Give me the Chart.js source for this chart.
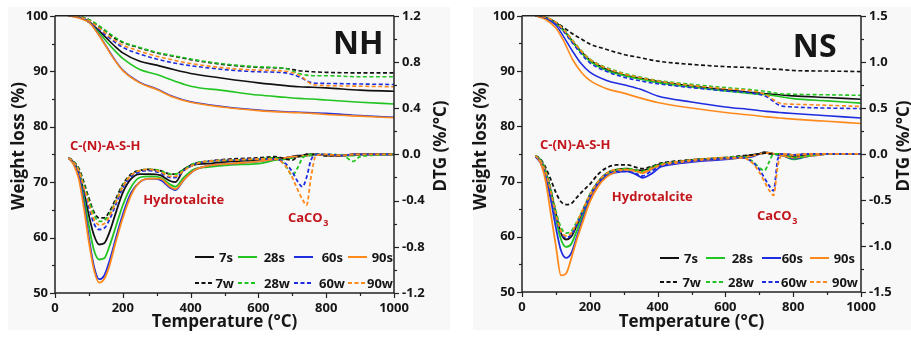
<!DOCTYPE html>
<html>
<head>
<meta charset="utf-8">
<title>TG / DTG</title>
<script src="https://cdn.jsdelivr.net/npm/chart.js@4.4.1/dist/chart.umd.min.js"></script>
<style>
html, body { margin: 0; padding: 0; background: #fff; }
#wrap { position: relative; width: 911px; height: 338px; }
#nh { position: absolute; left: 0; top: 0; }
#ns { position: absolute; left: 460px; top: 0; }
</style>
</head>
<body>
<div id="wrap">
  <canvas id="nh" width="460" height="338"></canvas>
  <canvas id="ns" width="451" height="338"></canvas>
</div>
<script>
// temperature grids (°C)
var tgTemp = [40, 70, 100, 125, 150, 175, 200, 250, 300, 350, 400, 500, 600, 680, 720, 760, 800, 900, 1000];
var dtgTemp = [40, 55, 70, 85, 100, 115, 130, 145, 160, 180, 200, 225, 250, 280, 310, 340, 355, 380, 410, 450,
               520, 600, 650, 680, 700, 715, 730, 742, 755, 770, 800, 850, 880, 900, 1000];

var seriesNames = ['7s', '28s', '60s', '90s', '7w', '28w', '60w', '90w'];
var seriesColors = ['#111111', '#22c422', '#1f2de0', '#ff8a1c', '#111111', '#22c422', '#1f2de0', '#ff8a1c'];

// NH - weight loss (%)
var nhTg7s  = [100, 99.8, 99.0, 97.6, 96.1, 94.6, 93.3, 91.8, 91.1, 90.3, 89.6, 88.7, 87.9, 87.4, 87.2, 87.1, 87.0, 86.6, 86.4];
var nhTg28s = [100, 99.8, 98.8, 97.3, 95.5, 93.8, 92.3, 90.3, 89.4, 88.3, 87.3, 86.5, 85.7, 85.3, 85.1, 85.0, 84.8, 84.4, 84.1];
var nhTg60s = [100, 99.7, 98.9, 97.0, 94.6, 92.2, 90.2, 88.0, 86.8, 85.4, 84.5, 83.6, 83.0, 82.7, 82.6, 82.5, 82.4, 82.0, 81.7];
var nhTg90s = [100, 99.6, 98.8, 96.9, 94.5, 92.1, 90.1, 87.9, 86.7, 85.3, 84.4, 83.5, 82.9, 82.6, 82.5, 82.4, 82.2, 81.9, 81.6];
var nhTg7w  = [100, 99.9, 99.3, 98.3, 97.2, 96.0, 95.2, 94.2, 93.3, 92.7, 92.1, 91.2, 90.7, 90.5, 90.1, 89.9, 89.8, 89.7, 89.7];
var nhTg28w = [100, 99.9, 99.3, 98.4, 97.3, 96.2, 95.3, 94.3, 93.4, 92.8, 92.2, 91.3, 90.8, 90.5, 89.6, 89.2, 89.2, 89.0, 89.0];
var nhTg60w = [100, 99.8, 99.0, 97.8, 96.5, 95.3, 94.3, 93.1, 92.2, 91.5, 91.0, 90.3, 89.9, 89.7, 89.0, 87.9, 87.8, 87.7, 87.6];
var nhTg90w = [100, 99.8, 99.1, 98.0, 96.8, 95.6, 94.7, 93.6, 92.7, 92.0, 91.4, 90.6, 90.2, 90.0, 89.3, 87.6, 87.4, 87.3, 87.2];

// NH - DTG (%/°C)
var nhDtg7s  = [-0.03,-0.07,-0.15,-0.32,-0.53,-0.70,-0.78,-0.77,-0.68,-0.50,-0.33,-0.21,-0.17,-0.17,-0.18,-0.23,-0.24,-0.13,-0.09,-0.08,-0.06,-0.05,-0.03,-0.03,-0.02,-0.01,-0.01,0,0,0,-0.01,-0.01,0,0,0];
var nhDtg28s = [-0.03,-0.08,-0.17,-0.37,-0.62,-0.83,-0.91,-0.90,-0.80,-0.62,-0.44,-0.28,-0.20,-0.19,-0.20,-0.26,-0.28,-0.20,-0.13,-0.11,-0.09,-0.08,-0.05,-0.04,-0.03,-0.02,-0.02,-0.01,-0.01,0,-0.01,-0.01,-0.01,0,0];
var nhDtg60s = [-0.03,-0.08,-0.18,-0.42,-0.72,-0.97,-1.08,-1.05,-0.93,-0.72,-0.52,-0.33,-0.24,-0.21,-0.22,-0.29,-0.31,-0.22,-0.14,-0.10,-0.08,-0.06,-0.04,-0.03,-0.02,-0.02,-0.01,-0.01,0,0,-0.01,-0.01,0,0,0];
var nhDtg90s = [-0.03,-0.09,-0.21,-0.46,-0.76,-1.00,-1.11,-1.08,-0.97,-0.75,-0.55,-0.35,-0.24,-0.21,-0.21,-0.28,-0.30,-0.22,-0.14,-0.10,-0.08,-0.06,-0.04,-0.03,-0.02,-0.02,-0.01,-0.01,0,0,-0.01,-0.01,0,0,0];
var nhDtg7w  = [-0.03,-0.06,-0.12,-0.24,-0.38,-0.50,-0.55,-0.55,-0.50,-0.38,-0.26,-0.17,-0.14,-0.13,-0.14,-0.17,-0.17,-0.13,-0.08,-0.06,-0.04,-0.03,-0.02,-0.04,-0.05,-0.02,-0.01,0,0,0,-0.01,-0.01,0,0,0];
var nhDtg28w = [-0.03,-0.06,-0.13,-0.26,-0.40,-0.52,-0.58,-0.57,-0.52,-0.40,-0.27,-0.18,-0.14,-0.13,-0.14,-0.17,-0.17,-0.13,-0.08,-0.06,-0.05,-0.04,-0.03,-0.10,-0.18,-0.12,-0.03,-0.01,0,0,0,-0.01,-0.06,-0.02,0];
var nhDtg60w = [-0.03,-0.07,-0.15,-0.30,-0.46,-0.60,-0.65,-0.64,-0.57,-0.43,-0.29,-0.19,-0.15,-0.14,-0.16,-0.20,-0.20,-0.14,-0.09,-0.06,-0.05,-0.04,-0.04,-0.08,-0.15,-0.23,-0.28,-0.20,-0.05,0,0,-0.01,0,0,0];
var nhDtg90w = [-0.03,-0.07,-0.14,-0.28,-0.43,-0.56,-0.61,-0.60,-0.54,-0.41,-0.28,-0.18,-0.14,-0.13,-0.15,-0.19,-0.19,-0.14,-0.09,-0.06,-0.05,-0.04,-0.04,-0.10,-0.20,-0.30,-0.39,-0.44,-0.20,-0.01,0,-0.01,0,0,0];

// NS - weight loss (%)
var nsTg7s  = [100, 99.7, 98.8, 97.3, 95.3, 93.5, 92.0, 90.3, 89.3, 88.7, 88.1, 87.3, 86.6, 86.1, 85.9, 85.7, 85.5, 85.2, 84.9];
var nsTg28s = [100, 99.6, 98.6, 97.1, 95.1, 93.3, 91.8, 90.1, 89.2, 88.5, 87.9, 87.1, 86.4, 85.9, 85.7, 85.4, 85.0, 84.6, 84.2];
var nsTg60s = [100, 99.5, 98.3, 96.0, 93.5, 91.3, 89.8, 88.3, 87.5, 86.7, 85.5, 84.4, 83.5, 83.0, 82.7, 82.5, 82.3, 81.9, 81.5];
var nsTg90s = [100, 99.3, 97.8, 95.2, 92.0, 89.8, 88.3, 86.8, 86.0, 85.1, 84.3, 83.3, 82.5, 82.0, 81.7, 81.5, 81.3, 80.9, 80.5];
var nsTg7w  = [100, 99.7, 98.8, 97.8, 96.7, 95.8, 94.9, 93.9, 93.0, 92.4, 91.8, 91.2, 90.8, 90.6, 90.4, 90.3, 90.1, 90.0, 89.9];
var nsTg28w = [100, 99.7, 98.8, 97.4, 95.5, 93.7, 92.2, 90.6, 89.6, 88.9, 88.3, 87.6, 87.0, 86.6, 86.3, 85.9, 85.8, 85.7, 85.6];
var nsTg60w = [100, 99.6, 98.6, 97.0, 95.0, 93.1, 91.5, 89.9, 88.9, 88.2, 87.7, 87.0, 86.4, 86.0, 85.4, 83.8, 83.5, 83.3, 83.2];
var nsTg90w = [100, 99.7, 98.8, 97.3, 95.4, 93.6, 92.1, 90.5, 89.5, 88.8, 88.2, 87.4, 86.8, 86.4, 85.7, 84.2, 84.0, 83.8, 83.6];

// NS - DTG (%/°C)
var nsDtg7s  = [-0.02,-0.07,-0.19,-0.40,-0.65,-0.86,-0.93,-0.90,-0.79,-0.62,-0.45,-0.30,-0.21,-0.17,-0.16,-0.18,-0.18,-0.15,-0.11,-0.09,-0.06,-0.05,-0.03,-0.01,0,0.02,0.01,0,0,-0.01,-0.03,-0.01,0,0,0];
var nsDtg28s = [-0.02,-0.07,-0.20,-0.42,-0.70,-0.93,-1.01,-0.98,-0.85,-0.66,-0.47,-0.31,-0.22,-0.18,-0.17,-0.19,-0.20,-0.17,-0.12,-0.10,-0.07,-0.05,-0.04,-0.02,0,0.01,0.01,0,-0.01,-0.02,-0.06,-0.02,-0.01,0,0];
var nsDtg60s = [-0.03,-0.10,-0.25,-0.50,-0.80,-1.05,-1.13,-1.08,-0.92,-0.70,-0.50,-0.33,-0.24,-0.20,-0.19,-0.23,-0.26,-0.22,-0.14,-0.11,-0.08,-0.06,-0.04,-0.03,0,0.01,0.01,0,-0.01,-0.02,-0.05,-0.02,-0.01,0,0];
var nsDtg90s = [-0.02,-0.10,-0.30,-0.65,-1.00,-1.32,-1.30,-1.14,-0.95,-0.73,-0.52,-0.35,-0.25,-0.19,-0.17,-0.19,-0.21,-0.17,-0.12,-0.10,-0.07,-0.05,-0.04,-0.02,0,0.01,0.01,0,0,-0.02,-0.04,-0.02,-0.01,0,0];
var nsDtg7w  = [-0.02,-0.06,-0.15,-0.28,-0.42,-0.52,-0.55,-0.54,-0.48,-0.40,-0.33,-0.22,-0.15,-0.12,-0.12,-0.15,-0.16,-0.14,-0.10,-0.08,-0.06,-0.04,-0.02,-0.01,0,0.01,0,0,0,0,-0.01,0,0,0,0];
var nsDtg28w = [-0.02,-0.07,-0.18,-0.38,-0.62,-0.80,-0.86,-0.84,-0.75,-0.60,-0.44,-0.30,-0.21,-0.17,-0.16,-0.18,-0.19,-0.15,-0.11,-0.09,-0.06,-0.04,-0.03,-0.08,-0.15,-0.18,-0.08,0,0,0,-0.04,-0.02,0,0,0];
var nsDtg60w = [-0.03,-0.08,-0.20,-0.42,-0.68,-0.86,-0.91,-0.88,-0.78,-0.62,-0.46,-0.31,-0.22,-0.19,-0.19,-0.22,-0.24,-0.19,-0.13,-0.10,-0.07,-0.05,-0.04,-0.09,-0.17,-0.26,-0.35,-0.40,-0.05,0,-0.01,0,0,0,0];
var nsDtg90w = [-0.02,-0.08,-0.20,-0.41,-0.66,-0.84,-0.89,-0.86,-0.76,-0.60,-0.45,-0.30,-0.21,-0.17,-0.17,-0.19,-0.20,-0.16,-0.12,-0.09,-0.06,-0.04,-0.04,-0.10,-0.20,-0.30,-0.40,-0.45,-0.12,0,-0.01,0,0,0,0];

var FONT = '"Open Sans", "Liberation Sans", sans-serif';
var INK = '#161616';
var RED = '#c2161c';

function pts(xs, ys) {
	return xs.map(function(x, i){ return {x: x, y: ys[i]}; });
}

function buildSets(tg, dtg) {
	var sets = [];
	seriesNames.forEach(function(name, k){
		var dashed = name.slice(-1) == 'w';
		sets.push({
			label: 'TG ' + name, data: pts(tgTemp, tg[k]), yAxisID: 'y',
			borderColor: seriesColors[k], borderWidth: 1.6, borderDash: dashed ? [4, 2.5] : [],
			pointRadius: 0, cubicInterpolationMode: 'monotone', fill: false
		});
		sets.push({
			label: 'DTG ' + name, data: pts(dtgTemp, dtg[k]), yAxisID: 'y2',
			borderColor: seriesColors[k], borderWidth: 1.8, borderDash: dashed ? [4, 2.5] : [],
			pointRadius: 0, cubicInterpolationMode: 'monotone', fill: false
		});
	});
	// index 0 is drawn on top in Chart.js, so put 90w last-drawn
	return sets.reverse();
}

// frame, ticks, axis titles, labels and the two-row legend
var panelDeco = {
	id: 'panelDeco',
	beforeDraw: function(chart, args, o){
		var ctx = chart.ctx;
		ctx.save();
		ctx.fillStyle = '#fff';
		ctx.fillRect(0, 0, chart.width, chart.height);
		ctx.fillStyle = '#f8f8f8';
		ctx.fillRect(o.bg[0], o.bg[1], o.bg[2], o.bg[3]);
		ctx.restore();
	},
	afterDraw: function(chart, args, o){
		var ctx = chart.ctx, a = chart.chartArea;
		var sx = chart.scales.x, sy = chart.scales.y, sd = chart.scales.y2;
		ctx.save();
		ctx.strokeStyle = '#222';
		ctx.lineWidth = 1.5;
		ctx.beginPath();
		ctx.moveTo(a.left, a.top); ctx.lineTo(a.right, a.top);
		ctx.moveTo(a.left, a.top); ctx.lineTo(a.left, a.bottom); ctx.lineTo(a.right, a.bottom);
		ctx.moveTo(a.right, a.top); ctx.lineTo(a.right, a.bottom);
		ctx.stroke();

		ctx.lineWidth = 1.2;
		var line = function(x1, y1, x2, y2){
			ctx.beginPath(); ctx.moveTo(x1, y1); ctx.lineTo(x2, y2); ctx.stroke();
		};
		for (var t = 0; t <= 1000; t += 100) {
			var px = Math.round(sx.getPixelForValue(t)) + 0.5;
			line(px, a.bottom, px, a.bottom + (t % 200 ? 3 : 5));
		}
		for (var w = 50; w <= 100; w += 5) {
			var py = Math.round(sy.getPixelForValue(w)) + 0.5;
			line(a.left, py, a.left - (w % 10 ? 3 : 5), py);
		}
		for (var i = 0; i <= 12; i++) {
			var v = -o.dtgMax + i * o.dtgMax / 6;
			var pd = Math.round(sd.getPixelForValue(v)) + 0.5;
			line(a.right, pd, a.right + (i % 2 ? 3 : 5), pd);
		}

		// axis titles
		ctx.fillStyle = INK;
		ctx.textAlign = 'center';
		ctx.textBaseline = 'middle';
		ctx.font = 'bold 17px ' + FONT;
		ctx.fillText('Temperature (\u00b0C)', (a.left + a.right) / 2, o.xTitleY);
		ctx.save();
		ctx.translate(o.yTitleX, o.titleMidY);
		ctx.rotate(-Math.PI / 2);
		ctx.fillText('Weight loss (%)', 0, 0);
		ctx.restore();
		ctx.save();
		ctx.translate(o.dTitleX, o.titleMidY);
		ctx.rotate(-Math.PI / 2);
		ctx.fillText('DTG (%/\u00b0C)', 0, 0);
		ctx.restore();

		// sample name
		ctx.textAlign = 'left';
		ctx.font = 'bold 32px ' + FONT;
		ctx.fillText(o.name[0], sx.getPixelForValue(o.name[1]), sy.getPixelForValue(o.name[2]));

		// phase labels
		ctx.fillStyle = RED;
		o.notes.forEach(function(n){
			var x = sx.getPixelForValue(n[1]), y = sy.getPixelForValue(n[2]);
			ctx.font = 'bold 13px ' + FONT;
			ctx.fillText(n[0], x, y);
			if (n[3]) {
				var wd = ctx.measureText(n[0]).width;
				ctx.font = 'bold 9px ' + FONT;
				ctx.fillText(n[3], x + wd + 0.5, y + 5);
			}
		});

		// legend, solid row then dashed row
		ctx.font = 'bold 13px ' + FONT;
		ctx.textAlign = 'right';
		ctx.fillStyle = INK;
		ctx.lineWidth = 2;
		for (var r = 0; r < 2; r++) {
			for (var j = 0; j < 4; j++) {
				var k = r * 4 + j;
				ctx.strokeStyle = seriesColors[k];
				ctx.setLineDash(r ? [4, 2.5] : []);
				line(o.legX[j], o.legY[r], o.legX[j] + 19, o.legY[r]);
				ctx.fillText(seriesNames[k], o.legR[r][j], o.legY[r] + 1);
			}
		}
		ctx.setLineDash([]);
		ctx.restore();
	}
};

function makePanel(id, tg, dtg, dtgMax, geo, deco) {
	var tickFont = {family: FONT, weight: 'bold', size: 13};
	return new Chart(document.getElementById(id), {
		type: 'line',
		data: {datasets: buildSets(tg, dtg)},
		plugins: [panelDeco],
		options: {
			responsive: false,
			animation: false,
			events: [],
			layout: {padding: {top: 15, left: 0, right: 0, bottom: 0}},
			plugins: {legend: {display: false}, tooltip: {enabled: false}, panelDeco: deco},
			scales: {
				x: {
					type: 'linear', min: 0, max: 1000,
					grid: {display: false, drawTicks: false}, border: {display: false},
					ticks: {
						stepSize: 200, padding: 7, color: INK, font: tickFont, maxRotation: 0,
						callback: function(v){ return String(v); }
					},
					afterFit: function(s){ s.height = geo.xH; }
				},
				y: {
					position: 'left', min: 50, max: 100,
					grid: {display: false, drawTicks: false}, border: {display: false},
					ticks: {stepSize: 10, padding: 7, color: INK, font: tickFont},
					afterFit: function(s){ s.width = geo.yW; }
				},
				y2: {
					position: 'right', min: -dtgMax, max: dtgMax,
					grid: {display: false, drawTicks: false}, border: {display: false},
					ticks: {
						stepSize: dtgMax / 3, padding: 8, color: INK, font: tickFont,
						callback: function(v){ return (Math.abs(v) < 1e-9 ? 0 : v).toFixed(1); }
					},
					afterFit: function(s){ s.width = geo.y2W; }
				}
			}
		}
	});
}

makePanel('nh',
	[nhTg7s, nhTg28s, nhTg60s, nhTg90s, nhTg7w, nhTg28w, nhTg60w, nhTg90w],
	[nhDtg7s, nhDtg28s, nhDtg60s, nhDtg90s, nhDtg7w, nhDtg28w, nhDtg60w, nhDtg90w],
	1.2, {xH: 45, yW: 55, y2W: 66},
	{
		bg: [8, 7, 442, 323], dtgMax: 1.2,
		xTitleY: 322, yTitleX: 19, dTitleX: 441, titleMidY: 146,
		name: ['NH', 820, 94.8],
		notes: [['C-(N)-A-S-H', 44, 76.4], ['Hydrotalcite', 260, 66.7], ['CaCO', 687, 63.5, '3']],
		legX: [195, 238, 294, 348], legY: [257, 283],
		legR: [[233, 285, 343, 393], [234, 290, 345, 393]]
	});

makePanel('ns',
	[nsTg7s, nsTg28s, nsTg60s, nsTg90s, nsTg7w, nsTg28w, nsTg60w, nsTg90w],
	[nsDtg7s, nsDtg28s, nsDtg60s, nsDtg90s, nsDtg7w, nsDtg28w, nsDtg60w, nsDtg90w],
	1.5, {xH: 46, yW: 62, y2W: 50},
	{
		bg: [13, 7, 438, 323], dtgMax: 1.5,
		xTitleY: 322, yTitleX: 21, dTitleX: 444, titleMidY: 146,
		name: ['NS', 799, 94.2],
		notes: [['C-(N)-A-S-H', 53, 76.5], ['Hydrotalcite', 265, 67.1], ['CaCO', 693, 63.7, '3']],
		legX: [200, 246, 302, 350], legY: [258, 282],
		legR: [[238, 293, 343, 395], [241, 294, 347, 398]]
	});
</script>
</body>
</html>
